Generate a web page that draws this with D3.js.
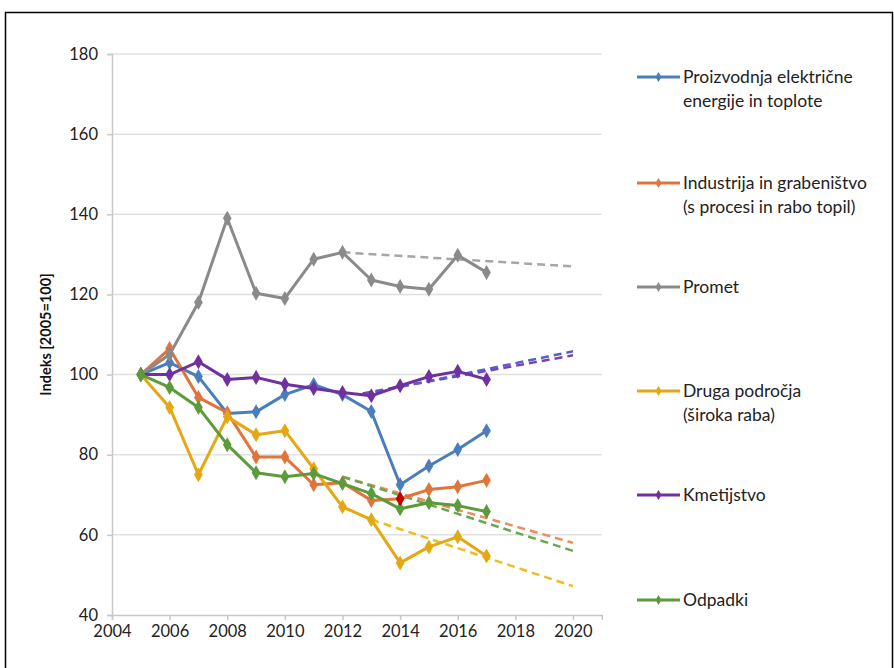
<!DOCTYPE html>
<html><head><meta charset="utf-8">
<script src="https://cdn.jsdelivr.net/npm/d3@7"></script>
<style>body{margin:0;background:#fff}svg{display:block}text{font-family:Lato,"Open Sans",sans-serif}</style>
</head><body>
<svg id="c" width="894" height="668"></svg>
<script>
const years = [2005,2006,2007,2008,2009,2010,2011,2012,2013,2014,2015,2016,2017];
const proizvodnja = [100,103,99.5,90.3,90.7,95,97.5,95,90.8,72.5,77.2,81.3,86];
const industrija = [100,106.5,94.3,90.5,79.4,79.4,72.5,73,68.6,69,71.3,72,73.6];
const promet = [100,105,118,139,120.3,119,128.8,130.5,123.6,122,121.3,129.8,125.5];
const druga = [100,91.8,75,89.5,85,86,76.5,67,63.8,53,57,59.5,54.7];
const kmetijstvo = [100,100,103.2,98.8,99.3,97.6,96.5,95.5,94.7,97.2,99.5,100.8,98.8];
const odpadki = [100,96.8,91.8,82.5,75.5,74.5,75.3,72.8,70.3,66.5,68,67.3,65.8];
const xTicks = [2004,2006,2008,2010,2012,2014,2016,2018,2020];
const yTicks = [40,60,80,100,120,140,160,180];
// trend lines: [startYear, startValue, endYear, endValue]
const trendPromet = [[2012,130.5],[2020,127]];
const trendIndustrija = [[2012,74.5],[2020,58]];
const trendOdpadki = [[2012,74.5],[2020,56]];
const trendDruga = [[2013,63.8],[2020,47.2]];
const trendKmet1 = [[2012.7,95],[2020,105.8]];
const trendKmet2 = [[2012.7,95.3],[2020,104.8]];

const series = [
  {name:["Proizvodnja električne","energije in toplote"], values:proizvodnja, color:"#4a7ebb"},
  {name:["Industrija in grabeništvo","(s procesi in rabo topil)"], values:industrija, color:"#e0743a"},
  {name:["Promet"], values:promet, color:"#8a8a8a"},
  {name:["Druga področja","(široka raba)"], values:druga, color:"#e3a812"},
  {name:["Kmetijstvo"], values:kmetijstvo, color:"#7030a0"},
  {name:["Odpadki"], values:odpadki, color:"#5b9b3a"}
];
const trends = [
  {pts:trendPromet, color:"#a6a6a6"},
  {pts:trendIndustrija, color:"#ef8a5a"},
  {pts:trendOdpadki, color:"#6aa84f"},
  {pts:trendDruga, color:"#f0bc1e"},
  {pts:trendKmet2, color:"#7a3fb0"},
  {pts:trendKmet1, color:"#5560c8"}
];

const svg = d3.select("#c");
svg.append("rect").attr("x",5.5).attr("y",12.5).attr("width",887).attr("height",670)
  .attr("fill","#fff").attr("stroke","#000").attr("stroke-width",1.5);

const x = d3.scaleLinear().domain([2004,2021]).range([112,601.8]);
const y = d3.scaleLinear().domain([40,180]).range([615,54]);

// grid
svg.append("g").selectAll("line").data(yTicks.filter(d=>d>40)).join("line")
  .attr("x1",x(2004)).attr("x2",x(2021)).attr("y1",d=>y(d)).attr("y2",d=>y(d))
  .attr("stroke","#e0e0e0").attr("stroke-width",1.5);

// axes
const yAxis = svg.append("g").attr("transform",`translate(${x(2004)},0)`)
  .call(d3.axisLeft(y).tickValues(yTicks).tickSize(5).tickPadding(9));
const xAxis = svg.append("g").attr("transform",`translate(0,${y(40)})`)
  .call(d3.axisBottom(x).tickValues(xTicks).tickFormat(d3.format("d")).tickSize(5).tickPadding(5));
[yAxis,xAxis].forEach(a=>{
  a.select(".domain").attr("stroke","#c8c8c8").attr("stroke-width",1.5);
  a.selectAll(".tick line").attr("stroke","#c8c8c8").attr("stroke-width",1.5);
  a.selectAll("text").attr("fill","#222").style("font-size","16.5px");
});

svg.append("text").attr("transform",`translate(51,${y(110)}) rotate(-90)`)
  .attr("text-anchor","middle").style("font-size","14.5px").style("font-weight","bold")
  .attr("fill","#111").text("Indeks [2005=100]");

const line = d3.line().x(d=>x(d[0])).y(d=>y(d[1]));

// trend lines
svg.append("g").selectAll("path").data(trends).join("path")
  .attr("d",d=>line(d.pts)).attr("fill","none").attr("stroke",d=>d.color)
  .attr("stroke-width",2.5).attr("stroke-dasharray","8,5");

const diamond = d3.symbol().type(d3.symbolDiamond).size(65);
series.forEach(s=>{
  const pts = years.map((yr,i)=>[yr,s.values[i]]);
  svg.append("path").attr("d",line(pts)).attr("fill","none").attr("stroke",s.color)
    .attr("stroke-width",3).attr("stroke-linejoin","round");
  svg.append("g").selectAll("path").data(pts).join("path")
    .attr("transform",d=>`translate(${x(d[0])},${y(d[1])})`)
    .attr("d",diamond).attr("fill",s.color);
});
// highlighted point
svg.append("path").attr("transform",`translate(${x(2014)},${y(industrija[9])})`)
  .attr("d",diamond).attr("fill","#c00000");

// legend
const legY = [77,183,287,391,495,600];
const leg = svg.append("g");
series.forEach((s,i)=>{
  const g = leg.append("g").attr("transform",`translate(0,${legY[i]})`);
  g.append("line").attr("x1",637).attr("x2",680).attr("y1",0).attr("y2",0)
    .attr("stroke",s.color).attr("stroke-width",3);
  g.append("path").attr("transform","translate(658.5,0)").attr("d",d3.symbol().type(d3.symbolDiamond).size(30)).attr("fill",s.color);
  s.name.forEach((t,j)=>{
    g.append("text").attr("x",683).attr("y",j*24).attr("dy","0.35em")
      .style("font-size","17.5px").attr("fill","#222").text(t);
  });
});
</script>
</body></html>
